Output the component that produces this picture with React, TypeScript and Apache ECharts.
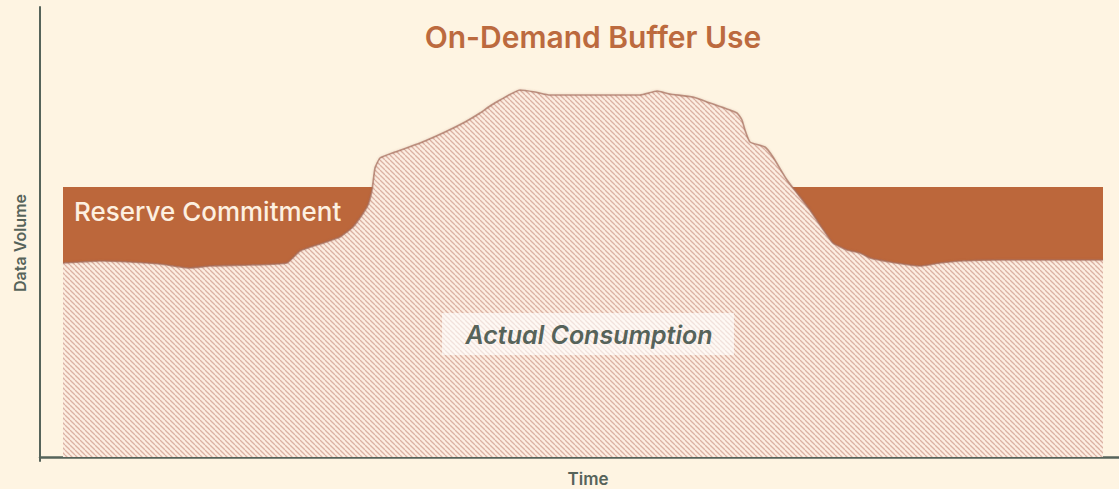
import React, { useEffect, useRef } from "react";
import * as echarts from "echarts";

// Time positions (arbitrary time units) and actual consumption (data volume units)
const timePoints = [
  2.3, 4.0, 6.0, 9.0, 12.0, 15.0, 17.0, 21.0, 24.7, 26.0, 28.0, 30.0, 31.3, 32.2,
  32.8, 33.2, 33.5, 34.0, 35.5, 38.0, 40.5, 42.5, 44.0, 45.0, 46.0, 48.0, 49.5,
  51.0, 56.0, 60.0, 61.7, 63.0, 65.3, 67.0, 69.7, 70.2, 70.5, 71.0, 72.5, 73.3,
  74.7, 76.0, 77.0, 78.0, 79.3, 80.7, 82.0, 83.0, 85.0, 88.0, 90.0, 92.0, 96.0,
  101.0, 106.3,
];
const consumption = [
  48.5, 48.75, 49, 48.75, 48.25, 47.25, 47.75, 48, 48.5, 51.5, 53.25, 55, 57.5,
  60.5, 63, 66.75, 72.25, 74.75, 76.25, 78.5, 81.25, 83.75, 86, 87.75, 89.25,
  91.75, 91.25, 90.5, 90.5, 90.5, 91.5, 90.75, 90, 88.5, 86, 84.25, 81.75, 78.75,
  77.5, 75, 69.25, 65, 61.75, 58, 53.5, 51.75, 51, 49.75, 48.75, 47.75, 48.5, 49,
  49.25, 49.25, 49.25,
];
const reserveSpan = [2.3, 106.3];
const reserveLevel = 67.5;

const titleText = "On-Demand Buffer Use";
const reserveLabel = "Reserve Commitment";
const actualLabel = "Actual Consumption";
const xAxisName = "Time";
const yAxisName = "Data Volume";

export default function App() {
  const ref = useRef<HTMLDivElement>(null);

  useEffect(() => {
    if (!ref.current) return;
    const chart = echarts.init(ref.current, undefined, { renderer: "svg" });

    const n = 5;
    const tile = document.createElement("canvas");
    tile.width = n;
    tile.height = n;
    const ctx = tile.getContext("2d")!;
    ctx.fillStyle = "#fdeee2";
    ctx.fillRect(0, 0, n, n);
    ctx.strokeStyle = "#dbb2a3";
    ctx.lineWidth = 1.3;
    for (const o of [-n, 0, n]) {
      ctx.beginPath();
      ctx.moveTo(o, 0);
      ctx.lineTo(o + n, n);
      ctx.stroke();
    }

    const font = "Inter, 'Noto Sans', sans-serif";
    const axisColor = "#56635a";

    chart.setOption({
      animation: false,
      backgroundColor: "#fef4e2",
      title: {
        text: titleText,
        left: 588,
        top: 17,
        textAlign: "center",
        textStyle: { color: "#bc6a3e", fontSize: 30, fontWeight: 600, fontFamily: font },
      },
      grid: { left: 40, right: 0, top: 7, bottom: 28 },
      xAxis: {
        type: "value",
        min: 0,
        max: 107.9,
        axisLine: { show: true, lineStyle: { color: axisColor, width: 2.5 } },
        axisTick: { show: false },
        axisLabel: { show: false },
        splitLine: { show: false },
      },
      yAxis: {
        type: "value",
        min: -1,
        max: 112.5,
        axisLine: { show: true, lineStyle: { color: axisColor, width: 2 } },
        axisTick: { show: false },
        axisLabel: { show: false },
        splitLine: { show: false },
      },
      series: [
        {
          type: "line",
          data: reserveSpan.map((x) => [x, reserveLevel]),
          symbol: "none",
          lineStyle: { width: 0 },
          areaStyle: { color: "#bc673b", opacity: 1, origin: 0 },
          silent: true,
        },
        {
          type: "line",
          data: timePoints.map((x, i) => [x, consumption[i]]),
          symbol: "none",
          smooth: 0.15,
          lineStyle: {
            color: "rgba(165,110,92,0.7)",
            width: 1.6,
            shadowColor: "rgba(150,90,70,0.35)",
            shadowBlur: 2,
          },
          areaStyle: {
            color: { image: tile, repeat: "repeat", imageWidth: n, imageHeight: n },
            opacity: 1,
            origin: 0,
          },
          silent: true,
        },
      ],
      graphic: [
        {
          type: "text",
          z: 100,
          left: 74,
          top: 198,
          style: {
            text: reserveLabel,
            fill: "#fdf0e0",
            font: `500 26px ${font}`,
          },
        },
        {
          type: "rect",
          z: 100,
          shape: { x: 442, y: 313, width: 292, height: 42 },
          style: { fill: "rgba(255,255,255,0.62)" },
        },
        {
          type: "text",
          z: 101,
          x: 589,
          y: 335,
          style: {
            text: actualLabel,
            fill: "#56635a",
            font: `italic 600 25px ${font}`,
            textAlign: "center",
            textVerticalAlign: "middle",
          },
        },
        {
          type: "text",
          z: 100,
          x: 588,
          y: 479,
          style: {
            text: xAxisName,
            fill: "#56635a",
            font: `600 17px ${font}`,
            textAlign: "center",
            textVerticalAlign: "middle",
          },
        },
        {
          type: "text",
          z: 100,
          x: 20,
          y: 243,
          rotation: Math.PI / 2,
          style: {
            text: yAxisName,
            fill: "#56635a",
            font: `600 16px ${font}`,
            textAlign: "center",
            textVerticalAlign: "middle",
          },
        },
      ],
    });

    return () => chart.dispose();
  }, []);

  return (
    <div
      ref={ref}
      style={{ position: "fixed", left: 0, top: 0, width: 1119, height: 489, background: "#fef4e2" }}
    />
  );
}
